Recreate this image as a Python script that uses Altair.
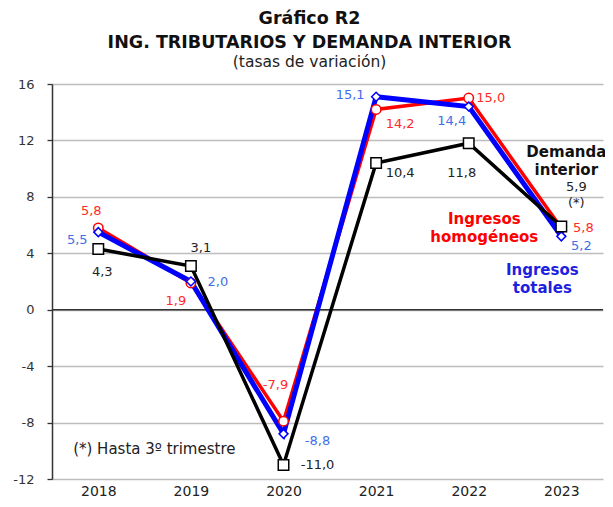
import altair as alt
import pandas as pd

years = [2018, 2019, 2020, 2021, 2022, 2023]
homogeneos = [5.8, 1.9, -7.9, 14.2, 15.0, 5.8]
totales = [5.5, 2.0, -8.8, 15.1, 14.4, 5.2]
demanda = [4.3, 3.1, -11.0, 10.4, 11.8, 5.9]

series_names = ["Ingresos homogéneos", "Ingresos totales", "Demanda interior"]
series_values = [homogeneos, totales, demanda]
line_colors = ["#FF0000", "#0000FF", "#000000"]
label_colors = ["#FF2A2A", "#3F6FE8", "#222222"]
line_widths = [3.5, 5, 3.5]
shapes = ["circle", "diamond", "square"]
sizes = [90, 80, 110]

# label offsets (pixels) per series, per year
offsets = [
    [(-7, -17), (-15, 18), (-8, -36), (24, 15), (22, 0), (22, 0)],
    [(-21, 8), (27, 0), (34, 7), (-26, -2), (-17, 14), (20, 10)],
    [(4, 23), (10, -18), (34, 0), (24, 10), (-7, 30), (15, -39)],
]

FONT = "DejaVu Sans"
X_SCALE = alt.Scale(domain=[2017.5, 2023.45], nice=False, zero=False)
Y_SCALE = alt.Scale(domain=[-12, 16], nice=False)

rows = []
for name, vals in zip(series_names, series_values):
    for yr, v in zip(years, vals):
        rows.append({"serie": name, "year": yr, "value": v,
                     "label": f"{v:.1f}".replace(".", ",")})
df = pd.DataFrame(rows)

base = alt.Chart(df)

x_enc = alt.X("year:Q", scale=X_SCALE,
              axis=alt.Axis(values=years, format="d", grid=False, ticks=False,
                            domain=False, labelFontSize=14, labelColor="#222",
                            labelPadding=5, labelFont=FONT),
              title=None)
y_enc = alt.Y("value:Q", scale=Y_SCALE,
              axis=alt.Axis(values=list(range(-12, 17, 4)), grid=True,
                            gridColor="#BDBDBD", gridWidth=1.4,
                            domainColor="#333", domainWidth=1.5,
                            tickColor="#333", tickSize=5, tickWidth=1.3,
                            labelFontSize=13, labelColor="#333",
                            labelPadding=13, labelFont=FONT,
                            labelExpr="toString(datum.value)"),
              title=None)

X = alt.X("year:Q", scale=X_SCALE)
Y = alt.Y("value:Q", scale=Y_SCALE)

layers = []
axes_layer = base.mark_point(opacity=0).encode(x=x_enc, y=y_enc)
layers.append(axes_layer)

# zero line
layers.append(
    alt.Chart(pd.DataFrame({"value": [0]}))
    .mark_rule(color="#333", strokeWidth=1.5)
    .encode(y=Y)
)

for name, col, w in zip(series_names, line_colors, line_widths):
    layers.append(
        base.transform_filter(alt.datum.serie == name)
        .mark_line(color=col, strokeWidth=w)
        .encode(x=X, y=Y)
    )

for name, col, shp, sz in zip(series_names, line_colors, shapes, sizes):
    layers.append(
        base.transform_filter(alt.datum.serie == name)
        .mark_point(shape=shp, filled=True, fill="white", stroke=col,
                    strokeWidth=1.5, size=sz, opacity=1)
        .encode(x=X, y=Y)
    )

for name, col, offs in zip(series_names, label_colors, offsets):
    for yr, (dx, dy) in zip(years, offs):
        layers.append(
            base.transform_filter((alt.datum.serie == name) & (alt.datum.year == yr))
            .mark_text(dx=dx, dy=dy, color=col, fontSize=13, font=FONT)
            .encode(x=X, y=Y, text="label:N")
        )

# asterisk under Demanda interior 2023 label
layers.append(
    base.transform_filter((alt.datum.serie == "Demanda interior") & (alt.datum.year == 2023))
    .mark_text(dx=15, dy=-23, color="#222", fontSize=13, font=FONT, text="(*)")
    .encode(x=X, y=Y)
)

# series name annotations
annots = [
    ("Demanda interior", ["Demanda", "interior"], "#111111", 5, -74),
    ("Ingresos homogéneos", ["Ingresos", "homogéneos"], "#FF0000", -77, -9),
    ("Ingresos totales", ["Ingresos", "totales"], "#1F1FE0", -19, 34),
]
for name, txt, col, dx, dy in annots:
    layers.append(
        base.transform_filter((alt.datum.serie == name) & (alt.datum.year == 2023))
        .mark_text(dx=dx, dy=dy, color=col, fontSize=15, fontWeight="bold",
                   font=FONT, lineHeight=18, text=txt)
        .encode(x=X, y=Y)
    )

# footnote
layers.append(
    alt.Chart(pd.DataFrame({"year": [2018], "value": [-9.9]}))
    .mark_text(dx=56, color="#222", fontSize=15, font=FONT, text="(*) Hasta 3º trimestre")
    .encode(x=X, y=Y)
)

chart = alt.layer(*layers).properties(
    width=551, height=395,
    autosize=alt.AutoSizeParams(type="none"),
    title=alt.TitleParams(
        text=["Gráfico R2", "ING. TRIBUTARIOS Y DEMANDA INTERIOR"],
        subtitle="(tasas de variación)",
        anchor="middle", frame="bounds", font=FONT, fontSize=17.5,
        fontWeight="bold", color="#111", lineHeight=24,
        subtitleFont=FONT, subtitleFontSize=15.5, subtitleColor="#222",
        subtitlePadding=3, offset=8,
    ),
    padding={"left": 44, "top": 76, "right": 2, "bottom": 20},
).configure_view(stroke=None)

chart.save("out.html", embed_options={"renderer": "svg", "actions": False})
